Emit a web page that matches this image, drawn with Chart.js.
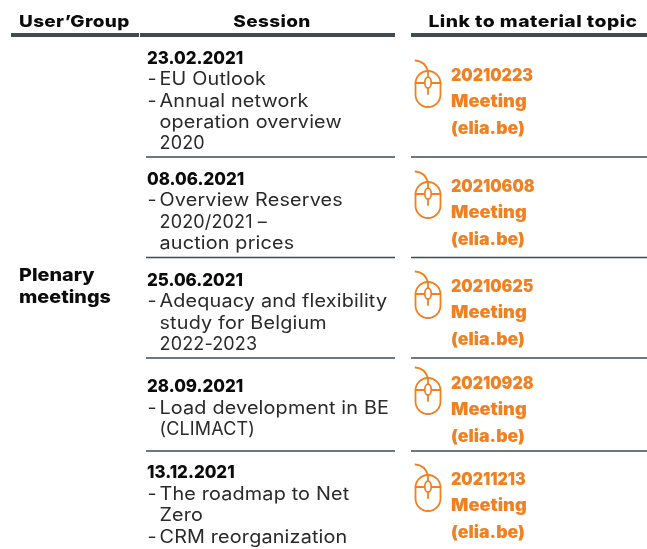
<!DOCTYPE html>
<html><head><meta charset="utf-8">
<style>html,body{margin:0;padding:0;background:#fff}#w{position:relative;width:647px;height:549px}</style>
<script src="https://cdn.jsdelivr.net/npm/chart.js@4"></script></head>
<body><div id="w"><canvas id="c" width="647" height="549"></canvas></div>
<script>
const headers = ["User’Group", "Session", "Link to material topic"];
const groupLabel = ["Plenary", "meetings"];
const dates = ["23.02.2021", "08.06.2021", "25.06.2021", "28.09.2021", "13.12.2021"];
const topics = [
  ["- EU Outlook", "- Annual network", "  operation overview", "  2020"],
  ["- Overview Reserves", "  2020/2021 –", "  auction prices"],
  ["- Adequacy and flexibility", "  study for Belgium", "  2022-2023"],
  ["- Load development in BE", "  (CLIMACT)"],
  ["- The roadmap to Net", "  Zero", "- CRM reorganization"]
];
const links = [
  ["20210223", "Meeting", "(elia.be)"],
  ["20210608", "Meeting", "(elia.be)"],
  ["20210625", "Meeting", "(elia.be)"],
  ["20210928", "Meeting", "(elia.be)"],
  ["20211213", "Meeting", "(elia.be)"]
];
// table geometry in the axis units of the chart
const dateBaselines = [63.7, 185, 285.7, 392.2, 478.4];
const linkBaselines = [80.7, 191.5, 291.5, 388.5, 484.5];
const iconCentres = [83, 194, 294, 390, 487];
const ruleRows = [157, 257.5, 358, 451];
const headerRule = 35;
const colEdges = [[11, 139], [140, 395], [411, 647]];
const rowEdges = [[146, 395], [411, 647]];

const NAVY = "#3f4a54", ORANGE = "#f08122", INK = "#0b0b0b", BODY = "#2a2a2a";

function mouseIcon() {
  const c = document.createElement("canvas");
  c.width = 30; c.height = 50;
  const x = c.getContext("2d");
  x.strokeStyle = ORANGE; x.lineWidth = 1.8; x.lineCap = "round";
  x.beginPath(); x.moveTo(2.5, 2.5); x.bezierCurveTo(9, 3, 13, 7, 15, 13); x.stroke();
  x.beginPath(); x.roundRect(2.5, 13, 25, 36, 12.5); x.stroke();
  x.beginPath(); x.moveTo(2.5, 25); x.lineTo(11, 25); x.moveTo(19, 25); x.lineTo(27.5, 25); x.stroke();
  x.beginPath(); x.moveTo(15, 13); x.lineTo(15, 19); x.moveTo(15, 30); x.lineTo(15, 36); x.stroke();
  x.beginPath(); x.ellipse(15, 24.7, 3.2, 5.5, 0, 0, 7); x.stroke();
  return c;
}

const ruleSets = [];
colEdges.forEach(e => ruleSets.push({type:"line", data:[{x:e[0],y:headerRule},{x:e[1],y:headerRule}], borderColor:NAVY, borderWidth:4, pointRadius:0}));
ruleRows.forEach(r => rowEdges.forEach(e => ruleSets.push({type:"line", data:[{x:e[0],y:r},{x:e[1],y:r}], borderColor:NAVY, borderWidth:1.4, pointRadius:0})));
const iconSet = {type:"scatter", data:iconCentres.map(y=>({x:428,y})), pointStyle:mouseIcon(), pointRadius:10, backgroundColor:ORANGE};

const textPlugin = { id:"tableText", afterDatasetsDraw(ch) {
  const g = ch.ctx, X = ch.scales.x, Y = ch.scales.y;
  const put = (s, x, y, font, col, ls, sx, centre) => {
    g.save();
    g.font = font; g.fillStyle = col; g.letterSpacing = ls + "px"; g.textAlign = centre ? "center" : "left"; g.textBaseline = "alphabetic";
    g.translate(X.getPixelForValue(x), Y.getPixelForValue(y));
    g.scale(sx, 1);
    g.fillText(s, 0, 0);
    g.restore();
  };
  const F = "Inter, sans-serif";
  const hb = "800 16.5px " + F, db = "800 18px " + F, tx = "400 18px " + F, lk = "900 17px " + F;
  put(headers[0], 19, 27, hb, INK, .3, 1.15);
  put(headers[1], 272, 27, hb, INK, .3, 1.15, true);
  put(headers[2], 533, 27, hb, INK, .4, 1.17, true);
  groupLabel.forEach((s,i)=>put(s, 19, 281 + i*21.6, db, INK, 0, 1.1));
  dates.forEach((d,i)=>{
    put(d, 147, dateBaselines[i], db, INK, 0, 0.94);
    topics[i].forEach((t,j)=>{
      const b = dateBaselines[i] + (j+1)*21.4;
      if (t.startsWith("- ")) put("-", 147.5, b, tx, BODY, 0, 1.1);
      const body = t.replace(/^(- |\s+)/, "");
      put(body, 159.5, b, tx, BODY, .15, /^[\d(]/.test(body) ? 1.0 : 1.1);
    });
  });
  links.forEach((l,i)=>l.forEach((t,j)=>put(t, 451, linkBaselines[i]+j*26.5, lk, ORANGE, 0, [0.94, 1.07, 1.04][j])));
}};

new Chart(document.getElementById("c"), {
  type:"line",
  data:{datasets:[...ruleSets, iconSet]},
  options:{
    responsive:false, animation:false, events:[],
    layout:{padding:0, autoPadding:false},
    plugins:{legend:{display:false},tooltip:{enabled:false}},
    scales:{
      x:{type:"linear",min:0,max:647,display:false},
      y:{type:"linear",min:0,max:549,reverse:true,display:false}
    }
  },
  plugins:[textPlugin]
});
</script></body></html>
